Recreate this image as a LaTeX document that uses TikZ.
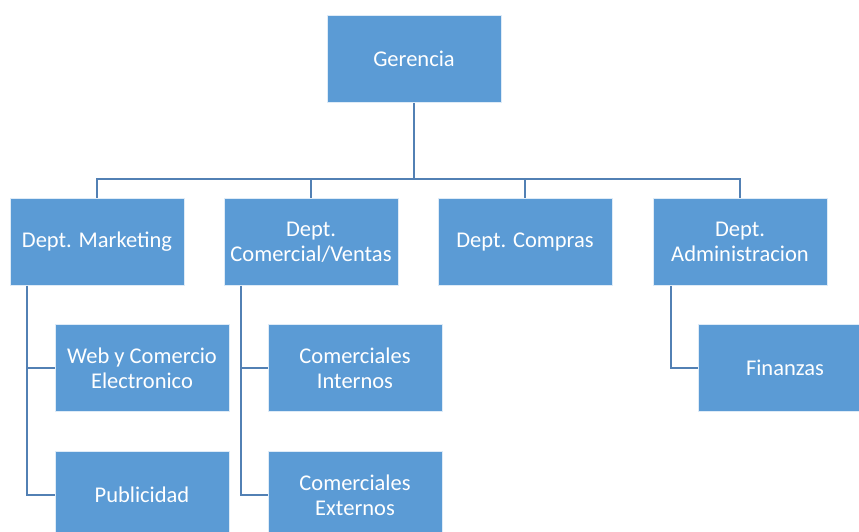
\documentclass[tikz,border=0pt]{standalone}
\usepackage{fontspec}
\setmainfont{Carlito}
\usepackage{tikz}
\usetikzlibrary{positioning}

\definecolor{boxblue}{RGB}{91,155,213}
\definecolor{lineblue}{RGB}{82,128,180}

\begin{document}
\begin{tikzpicture}[
  x=1pt, y=-1pt,
  bnode/.style={draw=white!80!boxblue,line width=0.6pt,fill=boxblue,text=white,
    minimum width=174pt,minimum height=87pt,inner sep=2pt,align=center,
    font=\fontsize{22.5}{25}\selectfont},
  conn/.style={draw=lineblue,line width=2pt}
]
  \useasboundingbox (0,0) rectangle (859,531);

  % top
  \node[bnode] (ger) at (414,59) {Gerencia};

  % departments
  \node[bnode] (mkt) at (97,242) {Dept. Marketing};
  \node[bnode] (com) at (311,242) {Dept.\\Comercial/Ventas};
  \node[bnode] (cpr) at (525,242) {Dept. Compras};
  \node[bnode] (adm) at (740,242) {Dept.\\Administracion};

  % sections
  \node[bnode] (web) at (142,368) {Web y Comercio\\Electronico};
  \node[bnode] (pub) at (142,495) {Publicidad};
  \node[bnode] (cint) at (355,368) {Comerciales\\Internos};
  \node[bnode] (cext) at (355,495) {Comerciales\\Externos};
  \node[bnode] (fin) at (785,368) {Finanzas};

  % hierarchy edges
  \draw[conn,line width=2.6pt] (ger.south) -- ++(0,76) coordinate (bus);
  \draw[conn] (bus) -| (mkt.north);
  \draw[conn] (bus) -| (com.north);
  \draw[conn] (bus) -| (cpr.north);
  \draw[conn] (bus) -| (adm.north);

  % section edges
  \draw[conn] ([xshift=-70pt]mkt.south) |- (web.west);
  \draw[conn] ([xshift=-70pt]mkt.south) |- (pub.west);
  \draw[conn] ([xshift=-70pt]com.south) |- (cint.west);
  \draw[conn] ([xshift=-70pt]com.south) |- (cext.west);
  \draw[conn] ([xshift=-69pt]adm.south) |- (fin.west);

\end{tikzpicture}
\end{document}
